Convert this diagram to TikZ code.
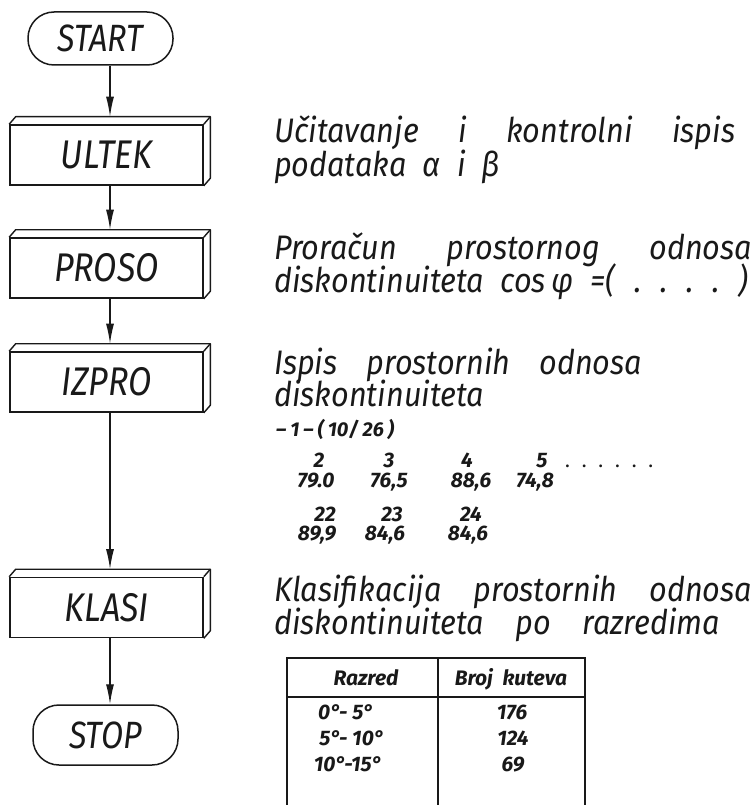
\documentclass[tikz,border=0pt]{standalone}
\usepackage{fontspec}
\setmainfont{Fira Sans}
\newfontfamily\iso{Fira Sans}[FakeStretch=0.85]
\newfontfamily\isotext{Fira Sans}[FakeStretch=0.9]
\usetikzlibrary{arrows.meta}

\begin{document}
\begin{tikzpicture}[x=1pt,y=-1pt,
  every node/.style={text=black!90},
  procbox/.style={draw=black!90, line width=1.6pt, minimum width=193pt,
    minimum height=60pt, inner sep=0pt,
    font=\iso\itshape\fontsize{40}{42}\selectfont},
  terminal/.style={draw=black!90, line width=1.5pt, rounded corners=26pt,
    minimum width=145pt, inner sep=0pt,
    font=\iso\itshape\fontsize{38}{40}\selectfont},
  depth/.style={draw=black!90, line width=1.4pt, line join=round},
  flow/.style={draw=black!90, line width=1.3pt, -{Latex[length=20pt,width=8pt]}},
  desc/.style={anchor=base west, inner sep=0pt, text height=24pt, text depth=7pt,
    font=\isotext\itshape\fontsize{34}{36}\selectfont},
  num/.style={anchor=base, inner sep=0pt,
    font=\bfseries\itshape\fontsize{21}{23}\selectfont},
  tbl/.style={draw=black!90, line width=1.5pt},
]
\useasboundingbox (0,0) rectangle (755,805);

% flowchart column
\node[terminal, minimum height=53pt] (start) at (100.5,38.5) {START};
\node[procbox] (ultek) at (106.5,155) {ULTEK};
\node[procbox] (proso) at (106.5,268) {PROSO};
\node[procbox] (izpro) at (106.5,382) {IZPRO};
\node[procbox] (klasi) at (106.5,607.5) {KLASI};
\node[terminal, minimum height=60pt] (stop) at (105.5,735) {STOP};

% top and right faces of the process boxes
\foreach \n in {ultek,proso,izpro,klasi}{
  \draw[depth] (\n.south east) -- ++(6.5,-7.5)
    -- ([shift={(6.5,-7.5)}]\n.north east)
    -- ([shift={(6.5,-7.5)}]\n.north west) -- (\n.north west);
  \draw[depth] (\n.north east) -- ++(6.5,-7.5);
  \coordinate (\n-in) at ([shift={(3.5,-7.5)}]\n.north);
}

\draw[flow] (start.south -| ultek-in) -- (ultek-in);
\draw[flow] (ultek.south -| proso-in) -- (proso-in);
\draw[flow] (proso.south -| izpro-in) -- (izpro-in);
\draw[flow] (izpro.south -| klasi-in) -- (klasi-in);
\draw[flow] (klasi.south -| klasi-in) -- (stop.north -| klasi-in);

% descriptions
\node[desc] (d1) at (274,143) {\hbox to 461pt{Učitavanje\hfill i\hfill kontrolni\hfill ispis}};
\node[desc] (d2) at (274,177) {\hbox to 226pt{podataka\hfill α\hfill i\hfill β}};
\node[desc] (d3) at (274,259) {\hbox to 478pt{Proračun\hfill prostornog\hfill odnosa}};
\node[desc] (d4) at (274,292) {\hbox to 474pt{diskontinuiteta\hfill\hbox to 248pt{cos\,φ\enspace=(\hfill.\hfill.\hfill.\hfill.\hfill)}}};
\node[desc] (d5) at (274,374) {\hbox to 368pt{Ispis\hfill prostornih\hfill odnosa}};
\node[desc] (d6) at (274,406) {diskontinuiteta};
\node[num, anchor=base west, font=\bfseries\itshape\fontsize{20}{22}\selectfont] (d7) at (276,436)
  {\hbox to 118pt{–\hfill 1\hfill –\hfill (\hfill 10/\hfill 26\hfill )}};
\node[desc] (d8) at (274,601) {\hbox to 478pt{Klasifikacija\hfill prostornih\hfill odnosa}};
\node[desc] (d9) at (274,634) {\hbox to 446pt{diskontinuiteta\hfill po\hfill razredima}};

% printed output sample
\node[num] (n2) at (319,467) {2};
\node[num] (n3) at (389,467) {3};
\node[num] (n4) at (467,467) {4};
\node[num] (n5) at (542,467) {5};
\node[num, anchor=base west, font=\fontsize{20}{22}\selectfont] (ndots) at (565,467)
  {\hbox to 88pt{.\hfill.\hfill.\hfill.\hfill.\hfill.}};
\node[num] (v2) at (316,487) {79.0};
\node[num] (v3) at (389,487) {76,5};
\node[num] (v4) at (471,487) {88,6};
\node[num] (v5) at (535,487) {74,8};
\node[num] (n22) at (325,521) {22};
\node[num] (n23) at (392,521) {23};
\node[num] (n24) at (471,521) {24};
\node[num] (v22) at (317,540) {89,9};
\node[num] (v23) at (385,540) {84,6};
\node[num] (v24) at (468,540) {84,6};

% class table
\draw[tbl] (287,805) -- (287,658) -- (585,658) -- (585,805);
\draw[tbl] (287,697) -- (585,697);
\draw[tbl] (438,658) -- (438,805);
\node[num] (h1) at (366,685) {Razred};
\node[num] (h2) at (511,685) {Broj\ \ kuteva};
\node[num] (r1) at (346,719) {0°- 5°};
\node[num] (r2) at (352,745) {5°- 10°};
\node[num] (r3) at (348,771) {10°-15°};
\node[num] (c1) at (512,719) {176};
\node[num] (c2) at (513,745) {124};
\node[num] (c3) at (513,771) {69};
\end{tikzpicture}
\end{document}
